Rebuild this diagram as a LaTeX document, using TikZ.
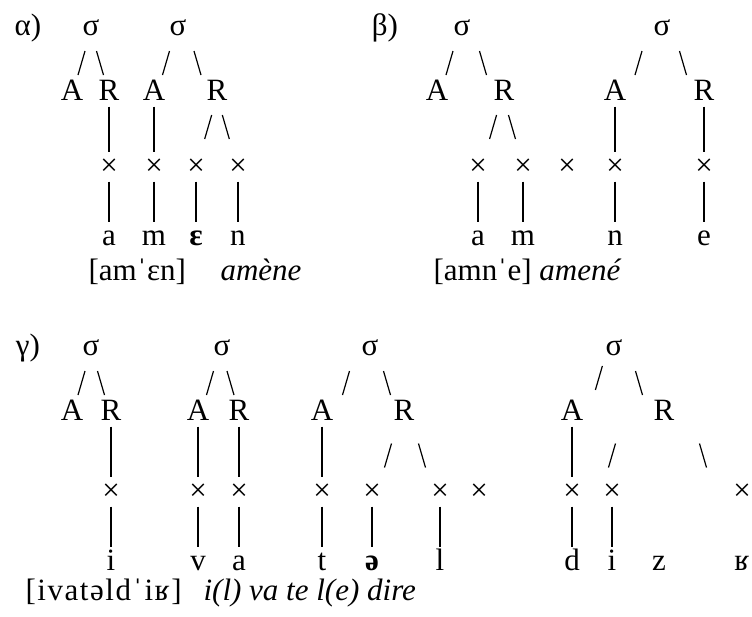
\documentclass[tikz,border=0pt]{standalone}
\usepackage{fontspec}
\setmainfont{Liberation Serif}
\usetikzlibrary{calc}

\tikzset{
  seg/.style={inner sep=0pt, text height=0.7em, text depth=0.25em, anchor=base},
  stem/.style={shorten <=0.5pt, shorten >=4pt},
  boldstem/.style={stem, line width=1.3pt},
  lbranch/.style={to path={($(\tikztostart)!#1!(\tikztotarget)$) ++(3.5,-12) -- ++(-7,24)}},
  lbranch/.default=.5,
  rbranch/.style={to path={($(\tikztostart)!#1!(\tikztotarget)$) ++(-3.5,-12) -- ++(7,24)}},
  rbranch/.default=.5
}

\begin{document}
\begin{tikzpicture}[x=0.5pt, y=-0.5pt, line width=0.6pt,
    every node/.style={seg, font=\fontsize{15.5}{18}\selectfont}]
\useasboundingbox (0,0) rectangle (752,617);

% alpha
\node (alab) at (28,35) {α)};
\node (as1) at (91,35) {σ};
\node (as2) at (178,35) {σ};
\node (aA1) at (72,100) {A};
\node (aR1) at (109,100) {R};
\node (aA2) at (154,100) {A};
\node (aR2) at (217,100) {R};
\node (ax1) at (109,175) {×};
\node (ax2) at (154,175) {×};
\node (ax3) at (196,175) {×};
\node (ax4) at (238,175) {×};
\node (aa) at (109,245) {a};
\node (am) at (154,245) {m};
\node (ae) at (196,245) {\textbf{ɛ}};
\node (an) at (238,245) {n};
\node[anchor=base west] (atr) at (88,280) {[amˈɛn]};
\node[anchor=base west] (aword) at (220,280) {\textit{amène}};
\draw (as1) to[lbranch] (aA1);
\draw (as1) to[rbranch] (aR1);
\draw (as2) to[lbranch] (aA2);
\draw (as2) to[rbranch] (aR2);
\draw[stem] (aR1) -- (ax1);
\draw[stem] (aA2) -- (ax2);
\draw (aR2) to[lbranch=.42] (ax3);
\draw (aR2) to[rbranch=.42] (ax4);
\draw[stem] (ax1) -- (aa);
\draw[stem] (ax2) -- (am);
\draw[boldstem] (ax3) -- (ae);
\draw[stem] (ax4) -- (an);

% beta
\node (blab) at (385,35) {β)};
\node (bs1) at (462,35) {σ};
\node (bs2) at (662,35) {σ};
\node (bA1) at (437,100) {A};
\node (bR1) at (504,100) {R};
\node (bA2) at (615,100) {A};
\node (bR2) at (704,100) {R};
\node (bx1) at (478,175) {×};
\node (bx2) at (523,175) {×};
\node (bx3) at (567,175) {×};
\node (bx4) at (615,175) {×};
\node (bx5) at (704,175) {×};
\node (ba) at (478,245) {a};
\node (bm) at (523,245) {m};
\node (bn) at (615,245) {n};
\node (be) at (704,245) {e};
\node[anchor=base west] (btr) at (433,280) {[amnˈe] \textit{amené}};
\draw (bs1) to[lbranch] (bA1);
\draw (bs1) to[rbranch] (bR1);
\draw (bs2) to[lbranch] (bA2);
\draw (bs2) to[rbranch] (bR2);
\draw (bR1) to[lbranch=.42] (bx1);
\draw (bR1) to[rbranch=.42] (bx2);
\draw[stem] (bA2) -- (bx4);
\draw[stem] (bR2) -- (bx5);
\draw[stem] (bx1) -- (ba);
\draw[stem] (bx2) -- (bm);
\draw[stem] (bx4) -- (bn);
\draw[stem] (bx5) -- (be);

% gamma
\node (glab) at (28,355) {γ)};
\node (gs1) at (91,355) {σ};
\node (gs2) at (222,355) {σ};
\node (gs3) at (370,355) {σ};
\node (gs4) at (614,355) {σ};
\node (gA1) at (72,420) {A};
\node (gR1) at (111,420) {R};
\node (gA2) at (198,420) {A};
\node (gR2) at (239,420) {R};
\node (gA3) at (322,420) {A};
\node (gR3) at (404,420) {R};
\node (gA4) at (572,420) {A};
\node (gR4) at (664,420) {R};
\node (gx1) at (111,500) {×};
\node (gx2) at (198,500) {×};
\node (gx3) at (239,500) {×};
\node (gx4) at (322,500) {×};
\node (gx5) at (372,500) {×};
\node (gx6) at (440,500) {×};
\node (gx7) at (479,500) {×};
\node (gx8) at (572,500) {×};
\node (gx9) at (612,500) {×};
\node (gx10) at (742,500) {×};
\node (gi) at (111,570) {i};
\node (gv) at (198,570) {v};
\node (ga) at (239,570) {a};
\node (gt) at (322,570) {t};
\node (gschwa) at (372,570) {\textbf{ə}};
\node (gl) at (440,570) {l};
\node (gd) at (572,570) {d};
\node (gi2) at (612,570) {i};
\node (gz) at (659,570) {z};
\node (gr) at (742,570) {ʁ};
\node[anchor=base west] (gtr) at (25,600) {\addfontfeature{LetterSpace=5}[ivatəldˈiʁ]};
\node[anchor=base west] (gword) at (203,600) {\textit{i(l) va te l(e) dire}};
\draw (gs1) to[lbranch] (gA1);
\draw (gs1) to[rbranch] (gR1);
\draw (gs2) to[lbranch] (gA2);
\draw (gs2) to[rbranch] (gR2);
\draw (gs3) to[lbranch] (gA3);
\draw (gs3) to[rbranch] (gR3);
\draw (gs4) to[lbranch] (gA4.north east);
\draw (gs4) to[rbranch] (gR4);
\draw[stem] (gR1) -- (gx1);
\draw[stem] (gA2) -- (gx2);
\draw[stem] (gR2) -- (gx3);
\draw[stem] (gA3) -- (gx4);
\draw (gR3) to[lbranch] (gx5);
\draw (gR3) to[rbranch] (gx6);
\draw[stem] (gA4) -- (gx8);
\draw (gR4 -| gx9) to[lbranch] (gx9);
\draw (gR4) to[rbranch] (gx10);
\draw[stem] (gx1) -- (gi);
\draw[stem] (gx2) -- (gv);
\draw[stem] (gx3) -- (ga);
\draw[stem] (gx4) -- (gt);
\draw[boldstem] (gx5) -- (gschwa);
\draw[stem] (gx6) -- (gl);
\draw[stem] (gx8) -- (gd);
\draw[stem] (gx9) -- (gi2);
\end{tikzpicture}
\end{document}
